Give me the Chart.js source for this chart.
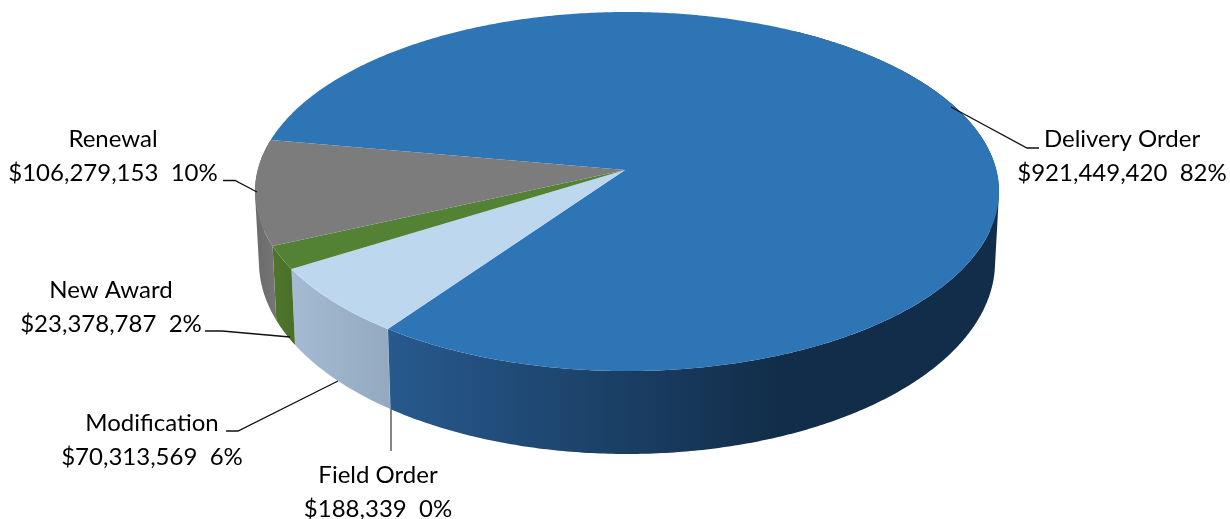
<!DOCTYPE html>
<html>
<head>
<meta charset="utf-8">
<title>Obligations by award type</title>
<script src="https://cdn.jsdelivr.net/npm/chart.js@4"></script>
<style>
  body { margin: 0; background: #fff; }
  canvas { display: block; }
</style>
</head>
<body>
<canvas id="pie" width="1230" height="519"></canvas>
<script>
// ---------- DATA ----------
const categories = ['Delivery Order', 'Field Order', 'Modification', 'New Award', 'Renewal'];
const amounts = [921449420, 188339, 70313569, 23378787, 106279153];
const percents = [82, 0, 6, 2, 10];
const topColors = ['#2e75b6', '#5b9bd5', '#bdd7ee', '#548235', '#7c7c7c'];
const sideColors = [
  ['#27598d', '#122d49'],
  ['#4a7fb5', '#4a7fb5'],
  ['#a5bbd3', '#93a9bf'],
  ['#50762c', '#4a6e29'],
  ['#6a6a6a', '#767676']
];

// ---------- LABEL LAYOUT ----------
const FONT = '24px Lato';
const labelSpots = [
  { x: 1122, y: 147, line: [[951, 107], [1027, 148], [1039, 148]] },
  { x: 378, y: 483, line: [[391, 409], [391, 451]], color: '#444' },
  { x: 152, y: 431, line: [[338, 381], [238, 431], [226, 431]] },
  { x: 111, y: 298, line: [[290, 337], [222, 331], [205, 331]] },
  { x: 113, y: 147, line: [[257, 192], [235, 180.5], [223, 180.5]] }
];

// ---------- PERSPECTIVE ----------
// the pie is tilted away, so near edge is bigger and the apex sits above the ellipse centre
const TOP = { x0: 627, a: 156.6, b: 170, R: 369.3 };
const BOTTOM = { x0: 627, a: 160.6, b: 239, R: 365.4 };
const TILT = -0.1198;
const APEX_NUDGE = -2;

function project(plane, u, v) {
  const w = 1 + TILT * v;
  return [plane.x0 + plane.R * u / w, (plane.a * v + plane.b) / w];
}
function rimPoints(plane, start, end) {
  const pts = [];
  const n = Math.max(2, Math.ceil((end - start) / 0.01));
  for (let i = 0; i <= n; i++) {
    const t = start + (end - start) * i / n;
    pts.push(project(plane, Math.cos(t), Math.sin(t)));
  }
  return pts;
}
function tracePath(ctx, pts) {
  ctx.beginPath();
  pts.forEach((p, i) => i ? ctx.lineTo(p[0], p[1]) : ctx.moveTo(p[0], p[1]));
  ctx.closePath();
}
function signedArea(pts) {
  let sum = 0;
  pts.forEach((p, i) => {
    const q = pts[(i + 1) % pts.length];
    sum += p[0] * q[1] - q[0] * p[1];
  });
  return sum;
}

// only the front of the wall can be seen, angles from +x going clockwise
const SIDE_FROM = -Math.PI / 3;
const SIDE_TO = Math.PI * 4 / 3;

function frontRange(start, end) {
  let best = [0, 0];
  for (let k = -1; k <= 2; k++) {
    const s = Math.max(start, SIDE_FROM + k * Math.PI * 2);
    const e = Math.min(end, SIDE_TO + k * Math.PI * 2);
    if (e - s > best[1] - best[0]) best = [s, e];
  }
  return best;
}

const pie3d = {
  id: 'pie3d',
  beforeDatasetsDraw(chart) {
    const ctx = chart.ctx;
    const arcs = chart.getDatasetMeta(0).data;
    ctx.save();

    // walls, big slice first. one path of same-wound quads so the silhouette
    // between the two rims gets filled as well
    arcs.forEach((arc, i) => {
      const range = frontRange(arc.startAngle, arc.endAngle);
      if (range[1] <= range[0]) return;
      const up = rimPoints(TOP, range[0], range[1]);
      const down = rimPoints(BOTTOM, range[0], range[1]);
      const xs = up.concat(down).map(p => p[0]);
      let x1 = Math.min(...xs), x2 = Math.max(...xs);
      if (i === 0) { x1 = 390; x2 = 780; }
      const grad = ctx.createLinearGradient(x1, 0, x2, 0);
      grad.addColorStop(0, sideColors[i][0]);
      grad.addColorStop(1, sideColors[i][1]);
      ctx.fillStyle = grad;
      ctx.beginPath();
      for (let k = 0; k < up.length - 1; k++) {
        const quad = [up[k], up[k + 1], down[k + 1], down[k]];
        if (signedArea(quad) < 0) quad.reverse();
        quad.forEach((p, n) => n ? ctx.lineTo(p[0], p[1]) : ctx.moveTo(p[0], p[1]));
        ctx.closePath();
      }
      ctx.fill();
    });

    // top faces
    arcs.forEach((arc, i) => {
      const apex = project(TOP, 0, 0);
      apex[0] += APEX_NUDGE;
      const pts = [apex].concat(rimPoints(TOP, arc.startAngle, arc.endAngle));
      ctx.fillStyle = topColors[i];
      tracePath(ctx, pts);
      ctx.fill();
    });

    // leader lines and labels
    ctx.lineWidth = 1.3;
    labelSpots.forEach((spot, i) => {
      ctx.strokeStyle = spot.color || '#111';
      ctx.beginPath();
      spot.line.forEach((p, k) => k ? ctx.lineTo(p[0], p[1]) : ctx.moveTo(p[0], p[1]));
      ctx.stroke();

      ctx.font = FONT;
      ctx.fillStyle = '#000';
      ctx.textAlign = 'center';
      ctx.textBaseline = 'alphabetic';
      ctx.fillText(categories[i], spot.x, spot.y);
      ctx.fillText('$' + amounts[i].toLocaleString('en-US') + '\u00a0\u00a0' + percents[i] + '%', spot.x, spot.y + 34);
    });

    ctx.restore();
    return false;
  }
};

new Chart(document.getElementById('pie'), {
  type: 'pie',
  data: {
    labels: categories,
    datasets: [{ data: amounts, backgroundColor: topColors, borderWidth: 0 }]
  },
  options: {
    responsive: false,
    animation: false,
    rotation: 280,
    plugins: { legend: { display: false }, tooltip: { enabled: false } }
  },
  plugins: [pie3d]
});
</script>
</body>
</html>
